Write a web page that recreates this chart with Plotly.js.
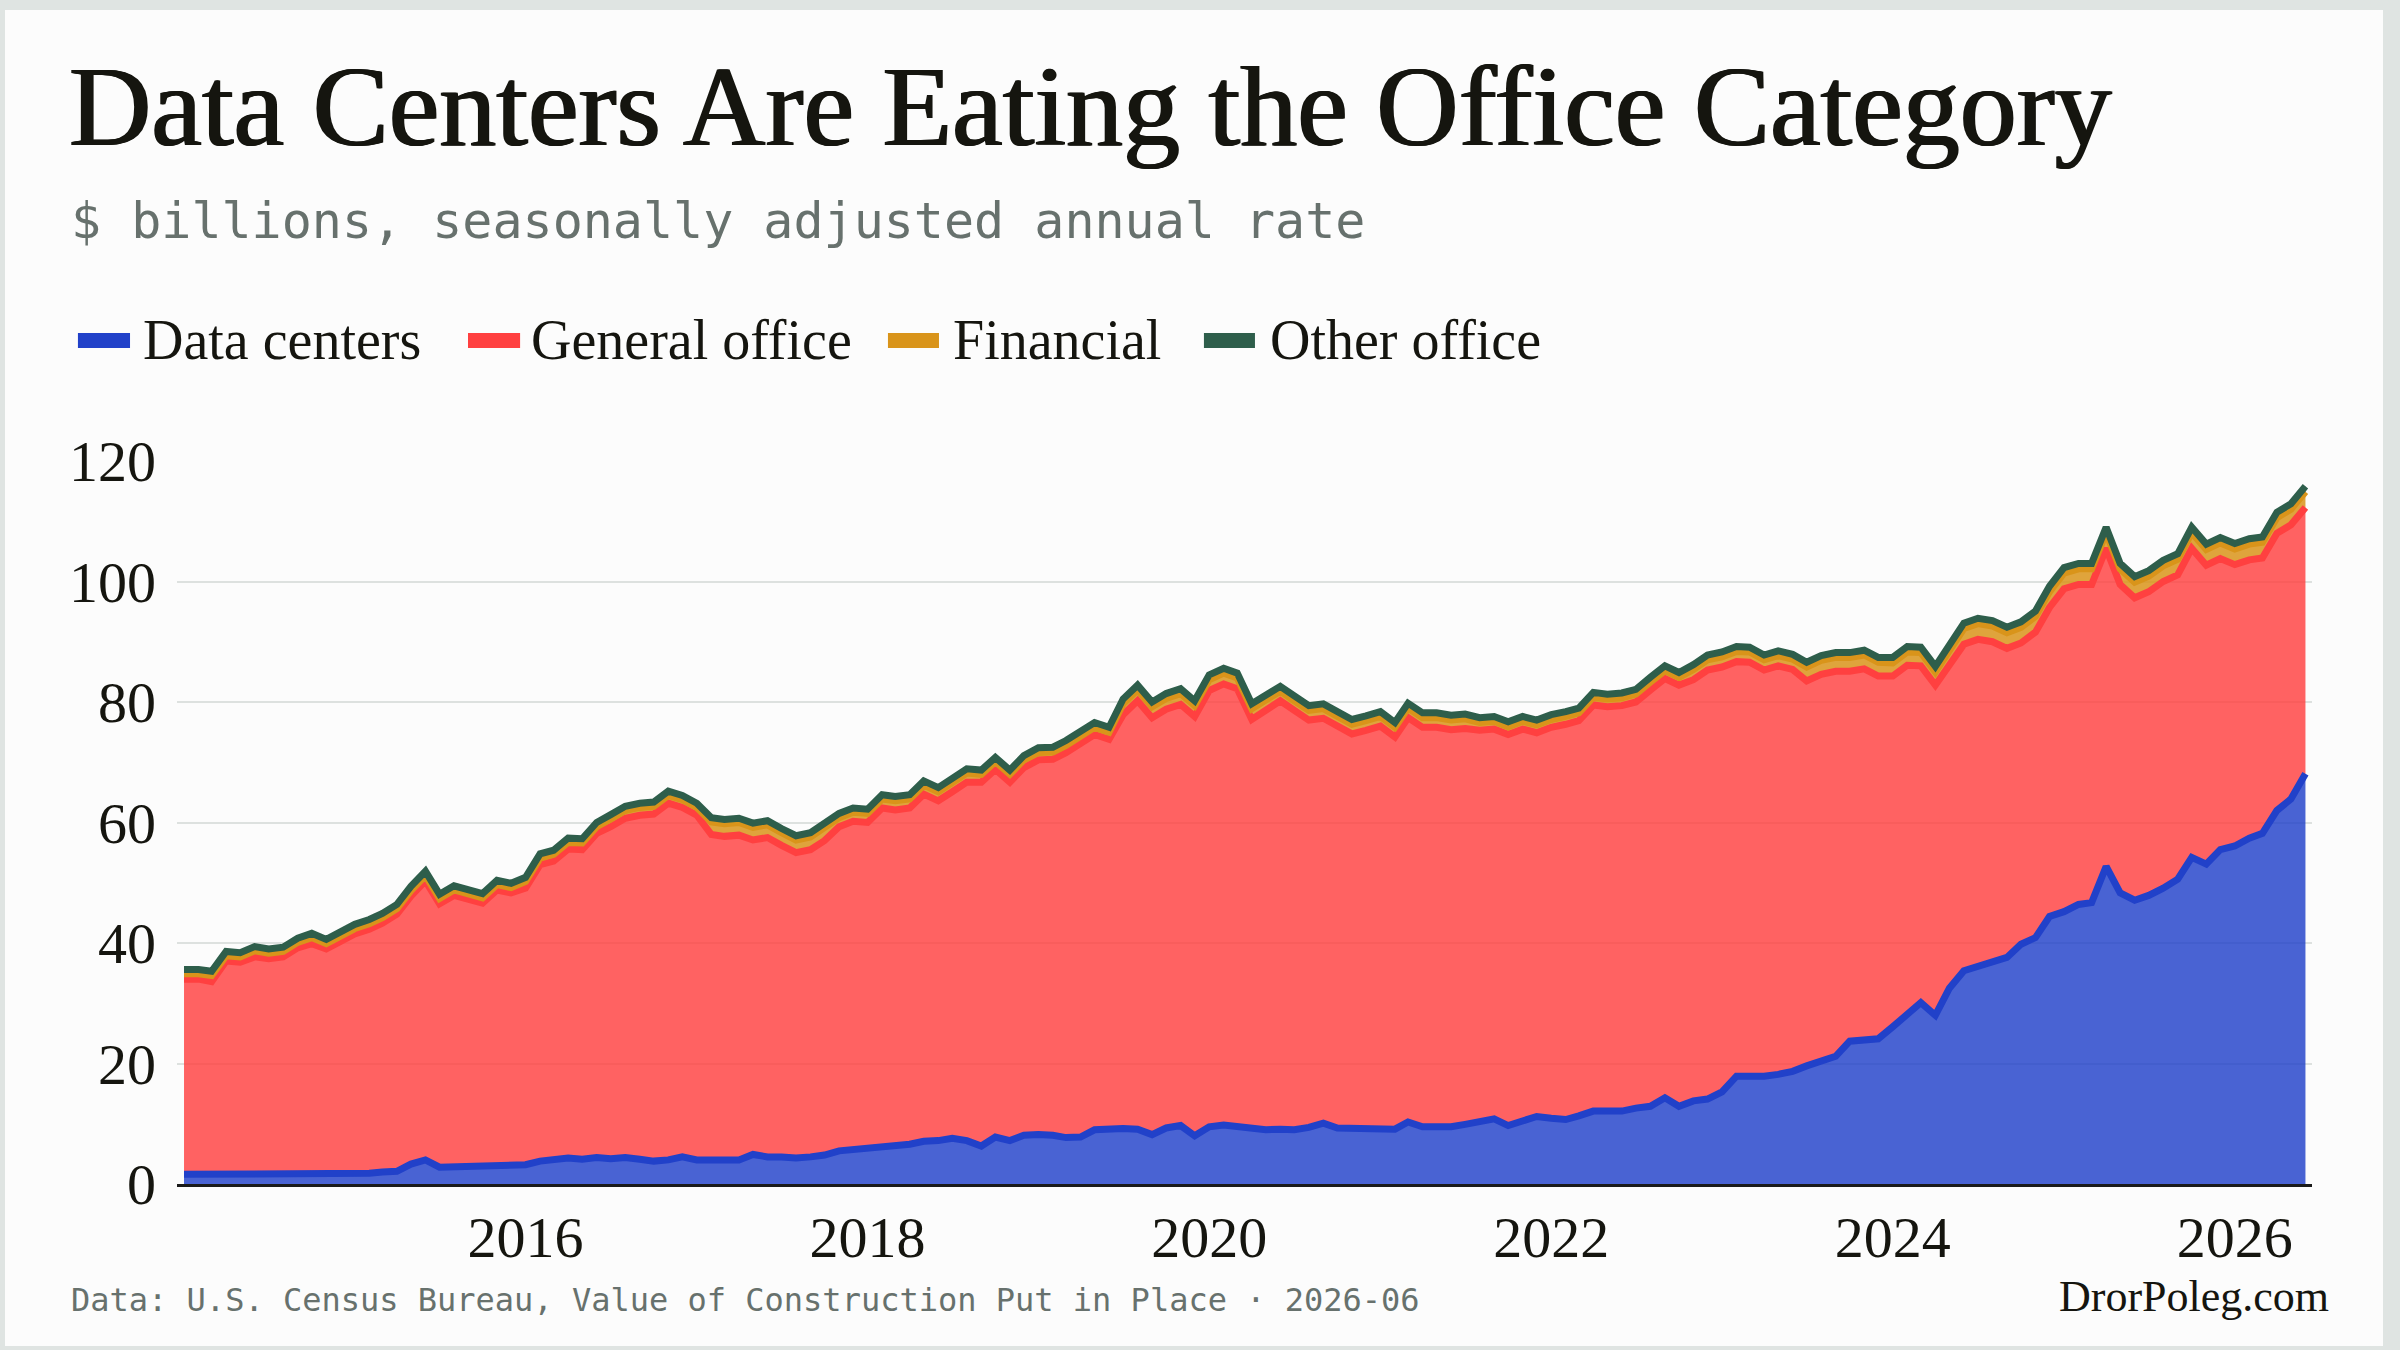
<!DOCTYPE html>
<html>
<head>
<meta charset="utf-8">
<script src="https://cdn.plot.ly/plotly-3.0.1.min.js"></script>
<style>
  html, body { margin: 0; padding: 0; background: #dfe4e2; }
  #chart { position: absolute; left: 5px; top: 10px; width: 2378px; height: 1336px; }
</style>
</head>
<body>
<div id="chart"></div>
<script>
// monthly, Jan 2014 .. Jun 2026 ($ billions, SAAR)
const startYear = 2014;
const tickYears = ["2016", "2018", "2020", "2022", "2024", "2026"];

const dataCenters = [
  1.6, 1.6, 1.6, 1.7, 1.7, 1.7, 1.7, 1.8, 1.8, 1.8, 1.7, 1.6,
  1.8, 1.8, 2.0, 2.1, 3.3, 4.0, 2.8, 2.9, 2.9, 2.9, 3.0, 3.1,
  3.2, 3.8, 4.1, 4.3, 4.1, 4.4, 4.2, 4.4, 4.1, 3.8, 4.0, 4.5,
  4.0, 4.0, 3.8, 4.0, 4.9, 4.5, 4.5, 4.3, 4.5, 4.8, 5.5, 5.7,
  6.1, 6.3, 6.5, 6.6, 7.1, 7.2, 7.6, 7.2, 6.3, 7.8, 7.2, 8.1,
  8.2, 8.1, 7.7, 7.8, 9.0, 9.2, 9.2, 9.1, 8.2, 9.3, 9.7, 8.0,
  9.5, 9.8, 9.6, 9.4, 9.0, 9.1, 9.0, 9.4, 10.1, 9.3, 9.3, 9.3,
  9.3, 9.1, 10.3, 9.5, 9.5, 9.5, 9.9, 10.5, 10.8, 9.7, 10.4, 11.2,
  10.9, 10.7, 11.3, 12.1, 12.1, 12.1, 12.6, 12.9, 14.3, 12.9, 13.8, 14.1,
  15.3, 17.9, 17.9, 17.9, 18.2, 18.7, 19.6, 20.4, 21.2, 23.7, 23.8, 24.1,
  26.1, 28.1, 30.1, 28.0, 32.5, 35.4, 36.2, 36.8, 37.6, 39.8, 40.9, 44.4,
  45.2, 46.4, 46.7, 52.7, 48.3, 47.1, 47.9, 49.1, 50.6, 54.2, 53.1, 55.5,
  56.1, 57.4, 58.2, 62.0, 63.9, 68.1
];

const generalOffice = [
  32.4, 32.4, 32.0, 35.3, 35.1, 36.0, 35.7, 35.9, 37.4, 38.1, 37.3, 38.7,
  39.7, 40.5, 41.3, 42.7, 44.5, 46.3, 43.7, 45.0, 44.3, 43.7, 45.8, 45.2,
  45.9, 49.2, 49.5, 51.3, 51.4, 53.8, 55.1, 56.3, 57.1, 57.6, 59.2, 58.0,
  57.2, 54.0, 53.9, 53.9, 52.2, 53.0, 51.7, 50.7, 51.0, 52.2, 53.8, 54.5,
  53.9, 56.1, 55.6, 55.8, 57.6, 56.4, 57.5, 59.5, 60.4, 61.0, 59.5, 61.0,
  62.2, 62.4, 63.9, 65.4, 65.6, 64.6, 68.7, 71.1, 69.2, 69.5, 69.9, 69.6,
  72.4, 73.2, 72.6, 67.7, 69.8, 71.1, 69.6, 67.6, 67.2, 66.7, 65.4, 66.0,
  66.7, 65.1, 67.1, 66.3, 66.3, 65.9, 65.7, 64.8, 64.7, 64.9, 65.1, 63.7,
  64.9, 65.6, 65.6, 67.4, 67.1, 67.3, 67.4, 69.1, 69.6, 69.9, 69.9, 71.2,
  70.5, 68.8, 68.7, 67.4, 67.8, 66.7, 63.9, 64.2, 63.9, 61.4, 61.7, 60.2,
  58.2, 58.0, 55.9, 54.8, 53.9, 54.2, 54.2, 53.2, 51.3, 50.0, 50.7, 51.3,
  53.6, 53.1, 52.8, 52.8, 51.2, 50.2, 50.4, 50.9, 50.5, 51.3, 49.6, 48.3,
  46.7, 46.2, 45.7, 46.0, 45.5, 44.2
];

const financial = [
  0.9, 0.9, 1.0, 0.9, 0.9, 1.0, 0.9, 0.9, 0.9, 1.0, 0.9, 0.9,
  0.9, 0.9, 0.9, 0.9, 0.9, 0.9, 0.9, 0.9, 1.0, 0.9, 0.9, 0.9,
  1.1, 1.1, 1.1, 1.1, 1.1, 1.1, 1.3, 1.3, 1.3, 1.3, 1.3, 1.3,
  1.3, 2.1, 2.1, 2.1, 2.1, 2.1, 2.1, 2.1, 2.1, 2.1, 1.5, 1.5,
  1.5, 1.5, 1.5, 1.5, 1.5, 1.5, 1.5, 1.5, 1.3, 1.3, 1.3, 1.3,
  1.2, 1.2, 1.2, 1.2, 1.2, 1.2, 1.8, 1.8, 1.8, 1.8, 1.8, 1.8,
  1.8, 1.8, 1.8, 1.8, 1.6, 1.6, 1.6, 1.6, 1.6, 1.6, 1.6, 1.6,
  1.6, 1.6, 1.6, 1.6, 1.6, 1.6, 1.6, 1.3, 1.3, 1.3, 1.3, 1.3,
  1.3, 1.3, 1.3, 1.3, 1.3, 1.3, 1.3, 1.3, 1.3, 1.3, 1.7, 1.7,
  1.7, 1.7, 1.7, 1.7, 1.7, 1.7, 2.3, 2.3, 2.3, 2.3, 2.3, 2.3,
  2.2, 2.2, 2.2, 2.2, 2.2, 2.6, 2.6, 2.6, 2.6, 2.6, 2.6, 2.6,
  2.6, 2.6, 2.6, 2.6, 2.6, 2.6, 2.6, 2.6, 2.6, 2.6, 2.6, 2.6,
  2.6, 2.6, 2.6, 2.6, 2.6, 2.6
];

const otherOffice = [
  0.7, 0.7, 0.7, 0.7, 0.7, 0.7, 0.7, 0.7, 0.7, 0.7, 0.7, 0.7,
  0.7, 0.7, 0.7, 0.7, 0.7, 0.7, 0.7, 0.7, 0.7, 0.7, 0.7, 0.7,
  0.7, 0.7, 0.7, 0.7, 0.7, 0.7, 0.7, 0.7, 0.7, 0.7, 0.7, 0.7,
  0.7, 0.7, 0.7, 0.7, 0.7, 0.7, 0.7, 0.7, 0.7, 0.7, 0.7, 0.7,
  0.7, 0.7, 0.7, 0.7, 0.7, 0.7, 0.7, 0.7, 0.7, 0.7, 0.7, 0.7,
  0.8, 0.8, 0.8, 0.8, 0.8, 0.8, 0.8, 0.8, 0.8, 0.8, 0.8, 0.8,
  0.8, 0.8, 0.8, 0.8, 0.8, 0.8, 0.8, 0.8, 0.8, 0.8, 0.8, 0.8,
  0.8, 0.8, 0.8, 0.8, 0.8, 0.8, 0.8, 0.8, 0.8, 0.8, 0.8, 0.8,
  0.8, 0.8, 0.8, 0.8, 0.8, 0.8, 0.8, 0.8, 0.8, 0.8, 0.8, 0.8,
  0.8, 0.8, 0.8, 0.8, 0.8, 0.8, 0.8, 0.8, 0.8, 0.8, 0.8, 0.8,
  0.9, 0.9, 0.9, 0.9, 0.9, 0.9, 0.9, 0.9, 0.9, 0.9, 0.9, 0.9,
  0.9, 0.9, 0.9, 0.9, 0.9, 0.9, 0.9, 0.9, 0.9, 0.9, 0.9, 0.9,
  0.9, 0.9, 0.9, 0.9, 0.9, 0.9
];

const seriesNames = ["Data centers", "General office", "Financial", "Other office"];
const lineColors = ["#2141c9", "#ff4040", "#d9941a", "#2e5e4b"];
const fillColors = ["rgba(33,65,201,0.82)", "rgba(255,64,64,0.82)", "rgba(217,148,26,0.85)", "rgba(46,94,75,0.85)"];

// month axis
const months = dataCenters.map((_, i) => {
  const y = startYear + Math.floor(i / 12);
  const m = (i % 12) + 1;
  return y + "-" + String(m).padStart(2, "0") + "-01";
});

const serif = "Liberation Serif, Times New Roman, serif";
const mono = "DejaVu Sans Mono, monospace";
const ink = "#15150f";

const traces = [dataCenters, generalOffice, financial, otherOffice].map((vals, k) => ({
  x: months,
  y: vals,
  name: seriesNames[k],
  type: "scatter",
  mode: "lines",
  stackgroup: "office",
  line: { color: lineColors[k], width: 7 },
  fillcolor: fillColors[k],
  hoverinfo: "x+y+name"
}));

// legend drawn above the plot: swatch bar + label for each series
const legendSwatchX = [[-0.0464, -0.0220], [0.1363, 0.1607], [0.3330, 0.3569], [0.4810, 0.5049]];
const legendTextX = [-0.0169, 0.1650, 0.3625, 0.5110];

const legendShapes = seriesNames.map((_, k) => ({
  type: "rect", xref: "paper", yref: "paper",
  x0: legendSwatchX[k][0], x1: legendSwatchX[k][1],
  y0: 1.1563, y1: 1.1770,
  fillcolor: lineColors[k], line: { width: 0 }
}));

const legendLabels = seriesNames.map((name, k) => ({
  text: name, xref: "paper", yref: "paper",
  x: legendTextX[k], xanchor: "left",
  y: 1.1674, yanchor: "middle",
  showarrow: false,
  font: { family: serif, size: 56, color: ink }
}));

const layout = {
  width: 2378,
  height: 1336,
  paper_bgcolor: "#fcfcfc",
  plot_bgcolor: "#fcfcfc",
  margin: { l: 172, r: 71, t: 451, b: 162 },
  title: {
    text: "Data Centers Are Eating the Office Category",
    font: { family: serif, size: 114, color: ink, shadow: "1px 0 0 #15150f, -1px 0 0 #15150f" },
    xref: "container", yref: "container",
    x: 0.0269, xanchor: "left",
    y: 0.9285, yanchor: "middle"
  },
  showlegend: false,
  xaxis: {
    type: "date",
    range: ["2013-12-17", "2026-06-15"],
    tickvals: tickYears.map(y => y + "-01-01"),
    ticktext: tickYears,
    showgrid: false,
    zeroline: false,
    showline: true,
    linecolor: "#1a1a1a",
    linewidth: 3,
    ticks: "",
    tickfont: { family: serif, size: 58, color: ink }
  },
  yaxis: {
    range: [0, 120],
    dtick: 20,
    showgrid: true,
    gridcolor: "#dde1df",
    gridwidth: 2,
    zeroline: false,
    showline: false,
    ticks: "",
    ticklabelstandoff: 20,
    tickfont: { family: serif, size: 58, color: ink }
  },
  shapes: legendShapes,
  annotations: legendLabels.concat([
    {
      text: "$ billions, seasonally adjusted annual rate",
      xref: "paper", yref: "paper",
      x: -0.0506, xanchor: "left",
      y: 1.332, yanchor: "middle",
      showarrow: false,
      font: { family: mono, size: 50, color: "#67716d" }
    },
    {
      text: "Data: U.S. Census Bureau, Value of Construction Put in Place · 2026-06",
      xref: "paper", yref: "paper",
      x: -0.0506, xanchor: "left",
      y: -0.1604, yanchor: "middle",
      showarrow: false,
      font: { family: mono, size: 32, color: "#67716d" }
    },
    {
      text: "DrorPoleg.com",
      xref: "paper", yref: "paper",
      x: 1.0089, xanchor: "right",
      y: -0.155, yanchor: "middle",
      showarrow: false,
      font: { family: serif, size: 44, color: ink }
    }
  ])
};

Plotly.newPlot("chart", traces, layout, { displayModeBar: false, responsive: false });
</script>
</body>
</html>
